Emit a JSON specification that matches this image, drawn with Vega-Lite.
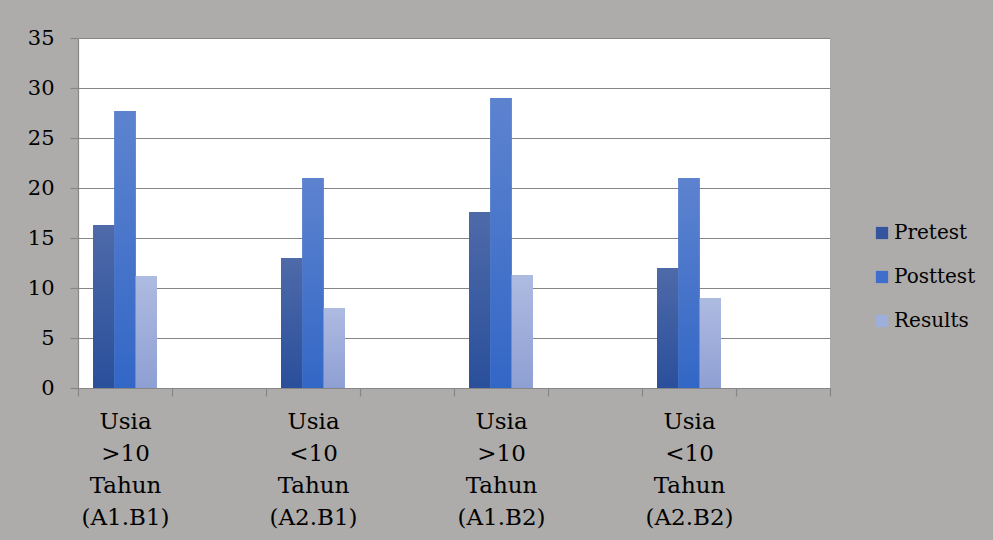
{
  "$schema": "https://vega.github.io/schema/vega-lite/v6.json",
  "width": 752,
  "height": 350,
  "autosize": {"type": "none"},
  "padding": {"left": 78, "top": 38, "right": 163, "bottom": 152},
  "background": "#adacaa",
  "data": {
    "values": [
      {"kelompok": "Usia|>10|Tahun|(A1.B1)", "seri": "Pretest", "nilai": 16.3},
      {"kelompok": "Usia|>10|Tahun|(A1.B1)", "seri": "Posttest", "nilai": 27.7},
      {"kelompok": "Usia|>10|Tahun|(A1.B1)", "seri": "Results", "nilai": 11.2},
      {"kelompok": "Usia|<10|Tahun|(A2.B1)", "seri": "Pretest", "nilai": 13.0},
      {"kelompok": "Usia|<10|Tahun|(A2.B1)", "seri": "Posttest", "nilai": 21.0},
      {"kelompok": "Usia|<10|Tahun|(A2.B1)", "seri": "Results", "nilai": 8.0},
      {"kelompok": "Usia|>10|Tahun|(A1.B2)", "seri": "Pretest", "nilai": 17.6},
      {"kelompok": "Usia|>10|Tahun|(A1.B2)", "seri": "Posttest", "nilai": 29.0},
      {"kelompok": "Usia|>10|Tahun|(A1.B2)", "seri": "Results", "nilai": 11.3},
      {"kelompok": "Usia|<10|Tahun|(A2.B2)", "seri": "Pretest", "nilai": 12.0},
      {"kelompok": "Usia|<10|Tahun|(A2.B2)", "seri": "Posttest", "nilai": 21.0},
      {"kelompok": "Usia|<10|Tahun|(A2.B2)", "seri": "Results", "nilai": 9.0}
    ]
  },
  "encoding": {
    "x": {
      "field": "kelompok",
      "type": "nominal",
      "sort": null,
      "scale": {
        "domain": ["Usia|>10|Tahun|(A1.B1)", "kosong1", "Usia|<10|Tahun|(A2.B1)", "kosong2", "Usia|>10|Tahun|(A1.B2)", "kosong3", "Usia|<10|Tahun|(A2.B2)", "kosong4"],
        "paddingInner": 0,
        "paddingOuter": 0
      },
      "axis": {
        "title": null,
        "labelAngle": 0,
        "labelExpr": "indexof(datum.label, '|') < 0 ? '' : split(datum.label, '|')",
        "labelFontSize": 23,
        "labelLineHeight": 32,
        "labelPadding": 14,
        "tickBand": "extent",
        "tickSize": 8,
        "tickColor": "#868686",
        "domainColor": "#868686",
        "labelBaseline": "top"
      }
    },
    "xOffset": {
      "field": "seri",
      "type": "nominal",
      "scale": {"domain": ["Pretest", "Posttest", "Results"], "paddingInner": 0, "paddingOuter": 0.705}
    },
    "y": {
      "field": "nilai",
      "type": "quantitative",
      "scale": {"domain": [0, 35], "nice": false},
      "axis": {
        "title": null,
        "values": [0, 5, 10, 15, 20, 25, 30, 35],
        "labelFontSize": 21,
        "tickSize": 8,
        "labelPadding": 16,
        "tickColor": "#868686",
        "domainColor": "#868686",
        "gridColor": "#868686",
        "gridWidth": 1.2
      }
    }
  },
  "layer": [
    {
      "mark": {"type": "bar"},
      "encoding": {
        "color": {
          "field": "seri",
          "type": "nominal",
          "scale": {"domain": ["Pretest", "Posttest", "Results"], "range": ["#34559e", "#3f6fca", "#9eafdb"]},
          "legend": {
            "title": null,
            "orient": "none",
            "legendX": 794,
            "legendY": 185,
            "symbolType": "square",
            "symbolSize": 150,
            "symbolStrokeWidth": 0,
            "labelFontSize": 20,
            "rowPadding": 24,
            "labelOffset": 2
          }
        }
      }
    },
    {
      "transform": [{"filter": "datum.seri === 'Pretest'"}],
      "mark": {
        "type": "bar",
        "color": {"gradient": "linear", "x1": 0, "y1": 1, "x2": 0, "y2": 0, "stops": [{"offset": 0, "color": "#2a4f9b"}, {"offset": 1, "color": "#4e6aa9"}]}
      }
    },
    {
      "transform": [{"filter": "datum.seri === 'Posttest'"}],
      "mark": {
        "type": "bar",
        "color": {"gradient": "linear", "x1": 0, "y1": 1, "x2": 0, "y2": 0, "stops": [{"offset": 0, "color": "#3367c6"}, {"offset": 1, "color": "#5d83cf"}]}
      }
    },
    {
      "transform": [{"filter": "datum.seri === 'Results'"}],
      "mark": {
        "type": "bar",
        "color": {"gradient": "linear", "x1": 0, "y1": 1, "x2": 0, "y2": 0, "stops": [{"offset": 0, "color": "#8e9fd3"}, {"offset": 1, "color": "#aebbe1"}]}
      }
    }
  ],
  "config": {
    "font": "DejaVu Serif",
    "view": {"fill": "white", "stroke": null},
    "axis": {
      "labelFont": "DejaVu Serif",
      "labelColor": "#000000",
      "domainWidth": 1.2,
      "tickWidth": 1.2
    },
    "legend": {
      "labelFont": "DejaVu Serif",
      "labelColor": "#000000"
    }
  }
}
